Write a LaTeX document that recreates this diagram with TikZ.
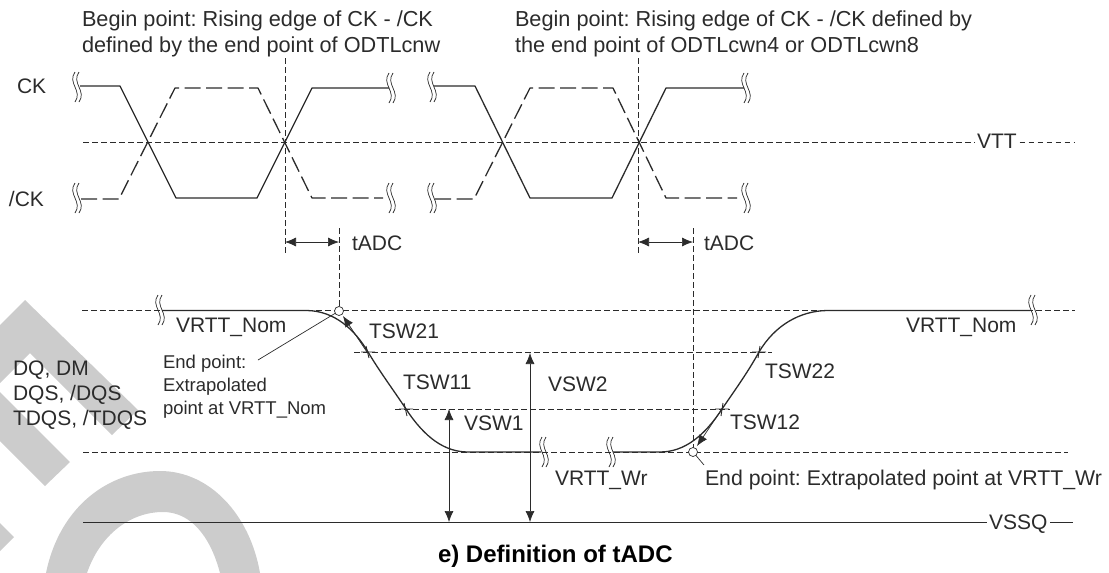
\documentclass[tikz,border=0pt]{standalone}
\usepackage{fontspec}
\setmainfont{Liberation Sans}
\usetikzlibrary{arrows.meta}
\definecolor{ink}{HTML}{2B2B2B}
\definecolor{wm}{HTML}{CCCCCC}
\tikzset{
 x=1pt,y=-1pt,
 every node/.style={text=ink,font=\fontsize{21}{24}\selectfont\frenchspacing,inner sep=0pt,outer sep=0pt},
 lab/.style={anchor=base west},
 head/.style={anchor=base west,font=\fontsize{21.7}{24}\selectfont\frenchspacing},
 small/.style={anchor=base west,font=\fontsize{18.5}{22}\selectfont\frenchspacing},
 sig/.style={draw=ink,line width=1.3pt,line join=round},
 sigd/.style={draw=ink,line width=1.3pt,dash pattern=on 16pt off 5.5pt,line join=round},
 guide/.style={draw=ink,line width=0.6pt,dash pattern=on 5.5pt off 3.5pt},
 dim/.style={draw=ink,line width=0.7pt,{Latex[length=11pt,width=9pt]}-{Latex[length=11pt,width=9pt]}},
 lead/.style={draw=ink,line width=0.7pt},
 tick/.style={draw=ink,line width=0.9pt},
 pt/.style={circle,draw=ink,fill=white,line width=0.7pt,minimum size=9pt},
}
\newcommand{\brk}[2]{%
 \draw[ink,line width=0.7pt] (#1-2,#2-15) .. controls (#1-10,#2-4) and (#1+6,#2+4) .. (#1-2,#2+15);
 \draw[ink,line width=0.7pt] (#1+2,#2-15) .. controls (#1-6,#2-4) and (#1+10,#2+4) .. (#1+2,#2+15);}
\begin{document}
\begin{tikzpicture}
\useasboundingbox (0,0) rectangle (1109,573);
% watermark
\fill[wm] (25,300) -- (138,410) -- (112,435) -- (30,353) -- (0,383) -- (0,325) -- cycle;
\fill[wm] (0,392) -- (70,462) -- (45,486) -- (0,441) -- cycle;
\fill[wm] (0,523) -- (14,537) -- (0,551) -- cycle;
\fill[wm] (46,573) .. controls (60,505) and (110,471) .. (160,471) .. controls (210,471) and (250,515) .. (260,573) -- (220,573) .. controls (210,535) and (190,512) .. (163,512) .. controls (130,512) and (100,535) .. (87,573) -- cycle;
% guides
\coordinate (vttL) at (83,142); \coordinate (vttR) at (1075,142);
\node[lab] (vtt) at (977,148) {VTT};
\draw[guide] (vttL) -- ([xshift=-2pt]vtt.west |- vttL);
\draw[guide] ([xshift=3pt]vtt.east |- vttR) -- (vttR);
\coordinate (nomL) at (82,310.5); \coordinate (nomR) at (1075,310.5);
\draw[guide] (nomL) -- (nomR);
\coordinate (w1) at (354,352); \coordinate (w2) at (772,352);
\draw[guide] (w1) -- (w2);
\coordinate (v1) at (395,409); \coordinate (v2) at (730,409);
\draw[guide] (v1) -- (v2);
\coordinate (wrL) at (83,452); \coordinate (wrR) at (1068,452);
\draw[guide] (wrL) -- (wrR);
\coordinate (a1t) at (285,58); \coordinate (a1b) at (285,253);
\draw[guide] (a1t) -- (a1b);
\coordinate (b1t) at (339,228); \coordinate (b1b) at (339,310);
\draw[guide] (b1t) -- (b1b);
\coordinate (a2t) at (638,58); \coordinate (a2b) at (638,253);
\draw[guide] (a2t) -- (a2b);
\coordinate (b2t) at (693,228); \coordinate (b2b) at (693,452);
\draw[guide] (b2t) -- (b2b);
% CK
\draw[sig] (80,86) -- (120,86) -- (176,198) -- (257,198) -- (312,88) -- (389,88);
\draw[sigd] (81,199) -- (119,199) -- (175,88) -- (258,88) -- (312,198) -- (383,198);
\draw[sig] (434,86) -- (475,86) -- (530,198) -- (612,198) -- (666,88) -- (744,88);
\draw[sigd] (435,199) -- (474,199) -- (530,88) -- (613,88) -- (666,198) -- (737,198);
\foreach \x/\y in {77/87,77/198,391/88,391/198,432/87,432/198,746/88,746/198}{\brk{\x}{\y}}
% DQ
\draw[sig] (162,310.5) -- (307,310.5) .. controls (335,311) and (355,330) .. (368,352) .. controls (380,372) and (392,388) .. (406,409) .. controls (425,438) and (445,452) .. (468,452) -- (541,452);
\brk{544}{452}
\draw[sig] (613,452) -- (660,452) .. controls (685,452) and (705,435) .. (722,409) .. controls (735,390) and (748,372) .. (759,352) .. controls (775,325) and (800,311) .. (827,310.5) -- (1030,310.5);
\brk{1033}{310}
\brk{160}{310}
\brk{611}{452}
% ticks
\draw[tick] (366,346) -- (369,358) (361,352) -- (375,352);
\draw[tick] (404,403) -- (407,416) (399,409) -- (413,409);
\draw[tick] (760,346) -- (758,358) (752,352) -- (766,352);
\draw[tick] (723,403) -- (721,416) (715,409) -- (729,409);
% VSSQ
\coordinate (ssL) at (83,522.5);
\node[lab] (vssq) at (989,529) {VSSQ};
\coordinate (ssR) at (1073,522.5);
\draw[ink,line width=1.4pt] (ssL) -- ([xshift=-2pt]vssq.west |- ssL);
\draw[ink,line width=1.4pt] ([xshift=3pt]vssq.east |- ssR) -- (ssR);
% dims
\coordinate (da1) at (285,242); \coordinate (db1) at (339,242);
\draw[dim] (da1) -- (db1);
\coordinate (da2) at (638,242); \coordinate (db2) at (693,242);
\draw[dim] (da2) -- (db2);
\coordinate (d1t) at (449,409); \coordinate (d1b) at (449,522);
\draw[dim] (d1t) -- (d1b);
\coordinate (d2t) at (530,353); \coordinate (d2b) at (530,522);
\draw[dim] (d2t) -- (d2b);
% end points
\node[pt] (ep1) at (339,311) {};
\node[pt] (ep2) at (693,452) {};
\coordinate (l1) at (258,360);
\draw[lead] (l1) -- (ep1);
\coordinate (l2) at (704,465);
\draw[lead] (l2) -- (ep2);
\coordinate (ta1) at (367,352);
\draw[lead,-{Latex[length=11pt,width=9pt]}] (ta1) -- (343,316);
\coordinate (ta2) at (722,409);
\draw[lead,-{Latex[length=11pt,width=9pt]}] (ta2) -- (697,446);
% labels
\node[head] (t1) at (82,26) {Begin point: Rising edge of CK - /CK};
\node[head] (t2) at (82,52) {defined by the end point of ODTLcnw};
\node[head] (t3) at (515,26) {Begin point: Rising edge of CK - /CK defined by};
\node[head] (t4) at (515,52) {the end point of ODTLcwn4 or ODTLcwn8};
\node[lab] (ck) at (17,93) {CK};
\node[lab] (nck) at (9,206) {/CK};
\node[lab] (tadc1) at (352,250) {tADC};
\node[lab] (tadc2) at (704,250) {tADC};
\node[lab] (nom1) at (176,332) {VRTT\_Nom};
\node[lab] (nom2) at (906,332) {VRTT\_Nom};
\node[lab] (dq1) at (13,375) {DQ, DM};
\node[lab] (dq2) at (13,400) {DQS, /DQS};
\node[lab] (dq3) at (13,425) {TDQS, /TDQS};
\node[small] (e1) at (163,368) {End point:};
\node[small] (e2) at (163,391) {Extrapolated};
\node[small] (e3) at (163,414) {point at VRTT\_Nom};
\node[lab] (tsw21) at (369,338) {TSW21};
\node[lab] (tsw11) at (403,389) {TSW11};
\node[lab] (tsw22) at (765,378) {TSW22};
\node[lab] (tsw12) at (730,429) {TSW12};
\node[lab] (vsw1) at (464,430) {VSW1};
\node[lab] (vsw2) at (548,391) {VSW2};
\node[lab] (wr) at (555,485) {VRTT\_Wr};
\node[head,font=\fontsize{21.3}{24}\selectfont\frenchspacing] (ee) at (705,485) {End point: Extrapolated point at VRTT\_Wr};
\node[lab,text=black,font=\fontsize{24}{26}\selectfont\bfseries\frenchspacing] (cap) at (438,562) {e) Definition of tADC};
\end{tikzpicture}
\end{document}
